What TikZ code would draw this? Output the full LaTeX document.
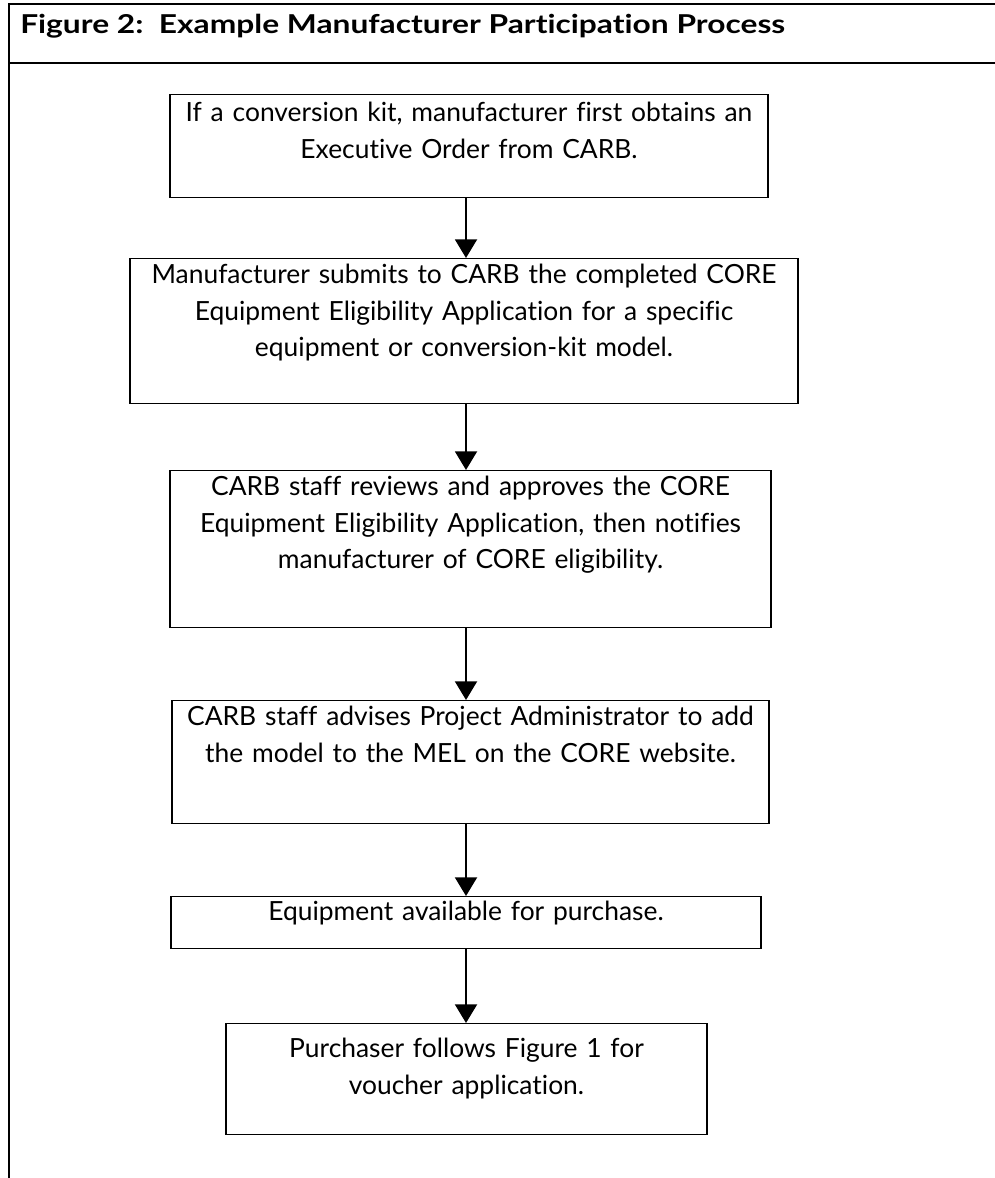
\documentclass[tikz,border=0pt]{standalone}
\usepackage{fontspec}
\setmainfont{Lato}[Ligatures=NoCommon]
\newfontfamily\titlefont{Lato}[Ligatures=NoCommon, FakeStretch=1.22]
\usepackage{tikz}
\usetikzlibrary{arrows.meta,positioning}

\begin{document}
\begin{tikzpicture}[x=0.75pt, y=-0.75pt, font=\fontsize{19.8}{27.4}\selectfont,
  stepbox/.style={draw, line width=1pt, anchor=north, align=center, inner xsep=0pt, inner ysep=0pt},
  arw/.style={line width=1.5pt, -{Triangle[width=16.5pt, length=14pt]}},
  frame/.style={line width=1.5pt}]
\useasboundingbox (0,0) rectangle (995,1178);

% 枠と見出し
\draw[frame] (995,4) -- (9,4) -- (9,1178);
\draw[frame] (9,63) -- (995,63);
\node[anchor=base west, inner sep=0pt, font=\titlefont\bfseries\fontsize{19.5}{22}\selectfont] (title) at (20,33) {Figure 2:\ \ Example Manufacturer Participation Process};

% ノード(座標配置・文字は上寄せ)
\node[stepbox, text width=448.5pt, text height=20.25pt, text depth=57pt] (eo) at (469,94)
  {If a conversion kit, manufacturer first obtains an\\Executive Order from CARB.};
\node[stepbox, text width=501pt, text height=18.75pt, text depth=90pt] (apply) at (464,258)
  {Manufacturer submits to CARB the completed CORE\\Equipment Eligibility Application for a specific\\equipment or conversion-kit model.};
\node[stepbox, text width=450.75pt, text height=18.75pt, text depth=99pt] (review) at (470.5,470)
  {CARB staff reviews and approves the CORE\\Equipment Eligibility Application, then notifies\\manufacturer of CORE eligibility.};
\node[stepbox, text width=447.75pt, text height=18.75pt, text depth=73.5pt] (mel) at (470.5,700)
  {CARB staff advises Project Administrator to add\\the model to the MEL on the CORE website.};
\node[stepbox, text width=442.5pt, text height=18pt, text depth=21pt] (avail) at (466,896)
  {Equipment available for purchase.};
\node[stepbox, text width=360.75pt, text height=25.5pt, text depth=57.75pt] (voucher) at (466.5,1023)
  {Purchaser follows Figure 1 for\\voucher application.};

% 矢印
\coordinate (ax) at (466,0);
\draw[arw] (eo.south -| ax) -- (apply.north -| ax);
\draw[arw] (apply.south -| ax) -- (review.north -| ax);
\draw[arw] (review.south -| ax) -- (mel.north -| ax);
\draw[arw] (mel.south -| ax) -- (avail.north -| ax);
\draw[arw] (avail.south -| ax) -- (voucher.north -| ax);
\end{tikzpicture}
\end{document}
